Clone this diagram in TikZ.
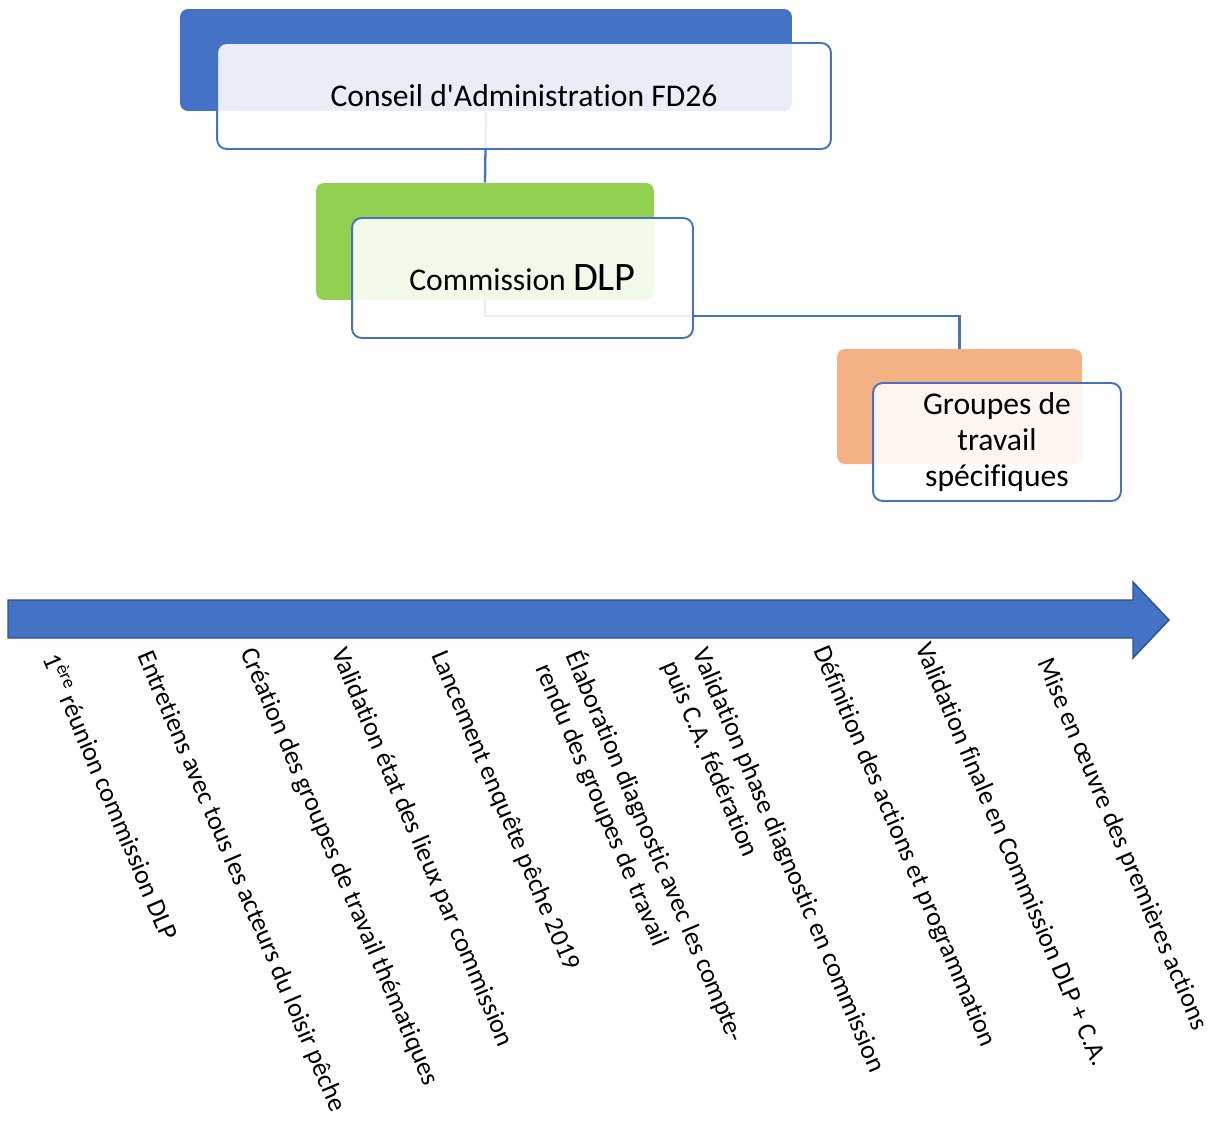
\documentclass[tikz,border=0pt]{standalone}
\usepackage{fontspec}
\setmainfont{Carlito}[Ligatures={TeX,NoCommon}]
\usetikzlibrary{positioning,calc}
\definecolor{bleu}{HTML}{4472C4}
\definecolor{bleufonce}{HTML}{2F528F}
\definecolor{vert}{HTML}{92D050}
\definecolor{orange}{HTML}{F4B183}
\begin{document}
\begin{tikzpicture}[
  x=0.02cm, y=-0.02cm,
  fond/.style={rectangle, rounded corners=4.5pt, inner sep=0pt},
  cadre/.style={rectangle, draw=bleu, line width=1.1pt, rounded corners=5.5pt, fill=white, fill opacity=0.88, text opacity=1, align=center, inner sep=0pt, font=\fontsize{18}{20.5}\selectfont},
  lien/.style={draw=bleu, line width=1.3pt},
  fleche/.style={fill=bleu, draw=bleufonce, line width=0.8pt},
  jalon/.style={rotate=-67, anchor=base west, inner sep=0pt, align=left, font=\fontsize{15}{18.5}\selectfont}
]
  \useasboundingbox (0,0) rectangle (1210,1120);

  \node[fond, fill=bleu, minimum width=12.24cm, minimum height=2.04cm] (ca-fond) at (486,60) {};
  \node[fond, fill=vert, minimum width=6.76cm, minimum height=2.34cm] (dlp-fond) at (485,241.5) {};
  \node[fond, fill=orange, minimum width=4.9cm, minimum height=2.3cm] (gt-fond) at (959.5,406.5) {};

  \draw[lien] (ca-fond.south) -- (dlp-fond.north);
  \draw[lien] (dlp-fond.south) -- ++(0,16) -| (gt-fond.north);

  \node[cadre, minimum width=12.28cm, minimum height=2.12cm] (ca) at (524,96) {Conseil d\textquotesingle Administration FD26};
  \node[cadre, minimum width=6.82cm, minimum height=2.4cm] (dlp) at (522.5,278) {Commission {\fontsize{23}{26}\selectfont DLP}};
  \node[cadre, minimum width=4.96cm, minimum height=2.36cm] (gt) at (997,442) {Groupes de\\travail\\spécifiques};

  \draw[fleche] (8,600) -- (1133,600) -- (1133,582) -- (1169,620) -- (1133,658) -- (1133,638) -- (8,638) -- cycle;

  \node[jalon] (j1) at (42,658) {1\textsuperscript{ère} réunion commission DLP};
  \node[jalon] (j2) at (137,655) {Entretiens avec tous les acteurs du loisir pêche};
  \node[jalon] (j3) at (240,652) {Création des groupes de travail thématiques};
  \node[jalon] (j4) at (331,652) {Validation état des lieux par commission};
  \node[jalon] (j5) at (431,655) {Lancement enquête pêche 2019};
  \node[jalon] (j6) at (535,668) {Élaboration diagnostic avec les compte-\\rendu des groupes de travail};
  \node[jalon] (j7) at (662,665) {Validation phase diagnostic en commission\\puis C.A. fédération};
  \node[jalon] (j8) at (813,650) {Définition des actions et programmation};
  \node[jalon] (j9) at (915,647) {Validation finale en Commission DLP + C.A.};
  \node[jalon] (j10) at (1037,662) {Mise en œuvre des premières actions};
\end{tikzpicture}
\end{document}
